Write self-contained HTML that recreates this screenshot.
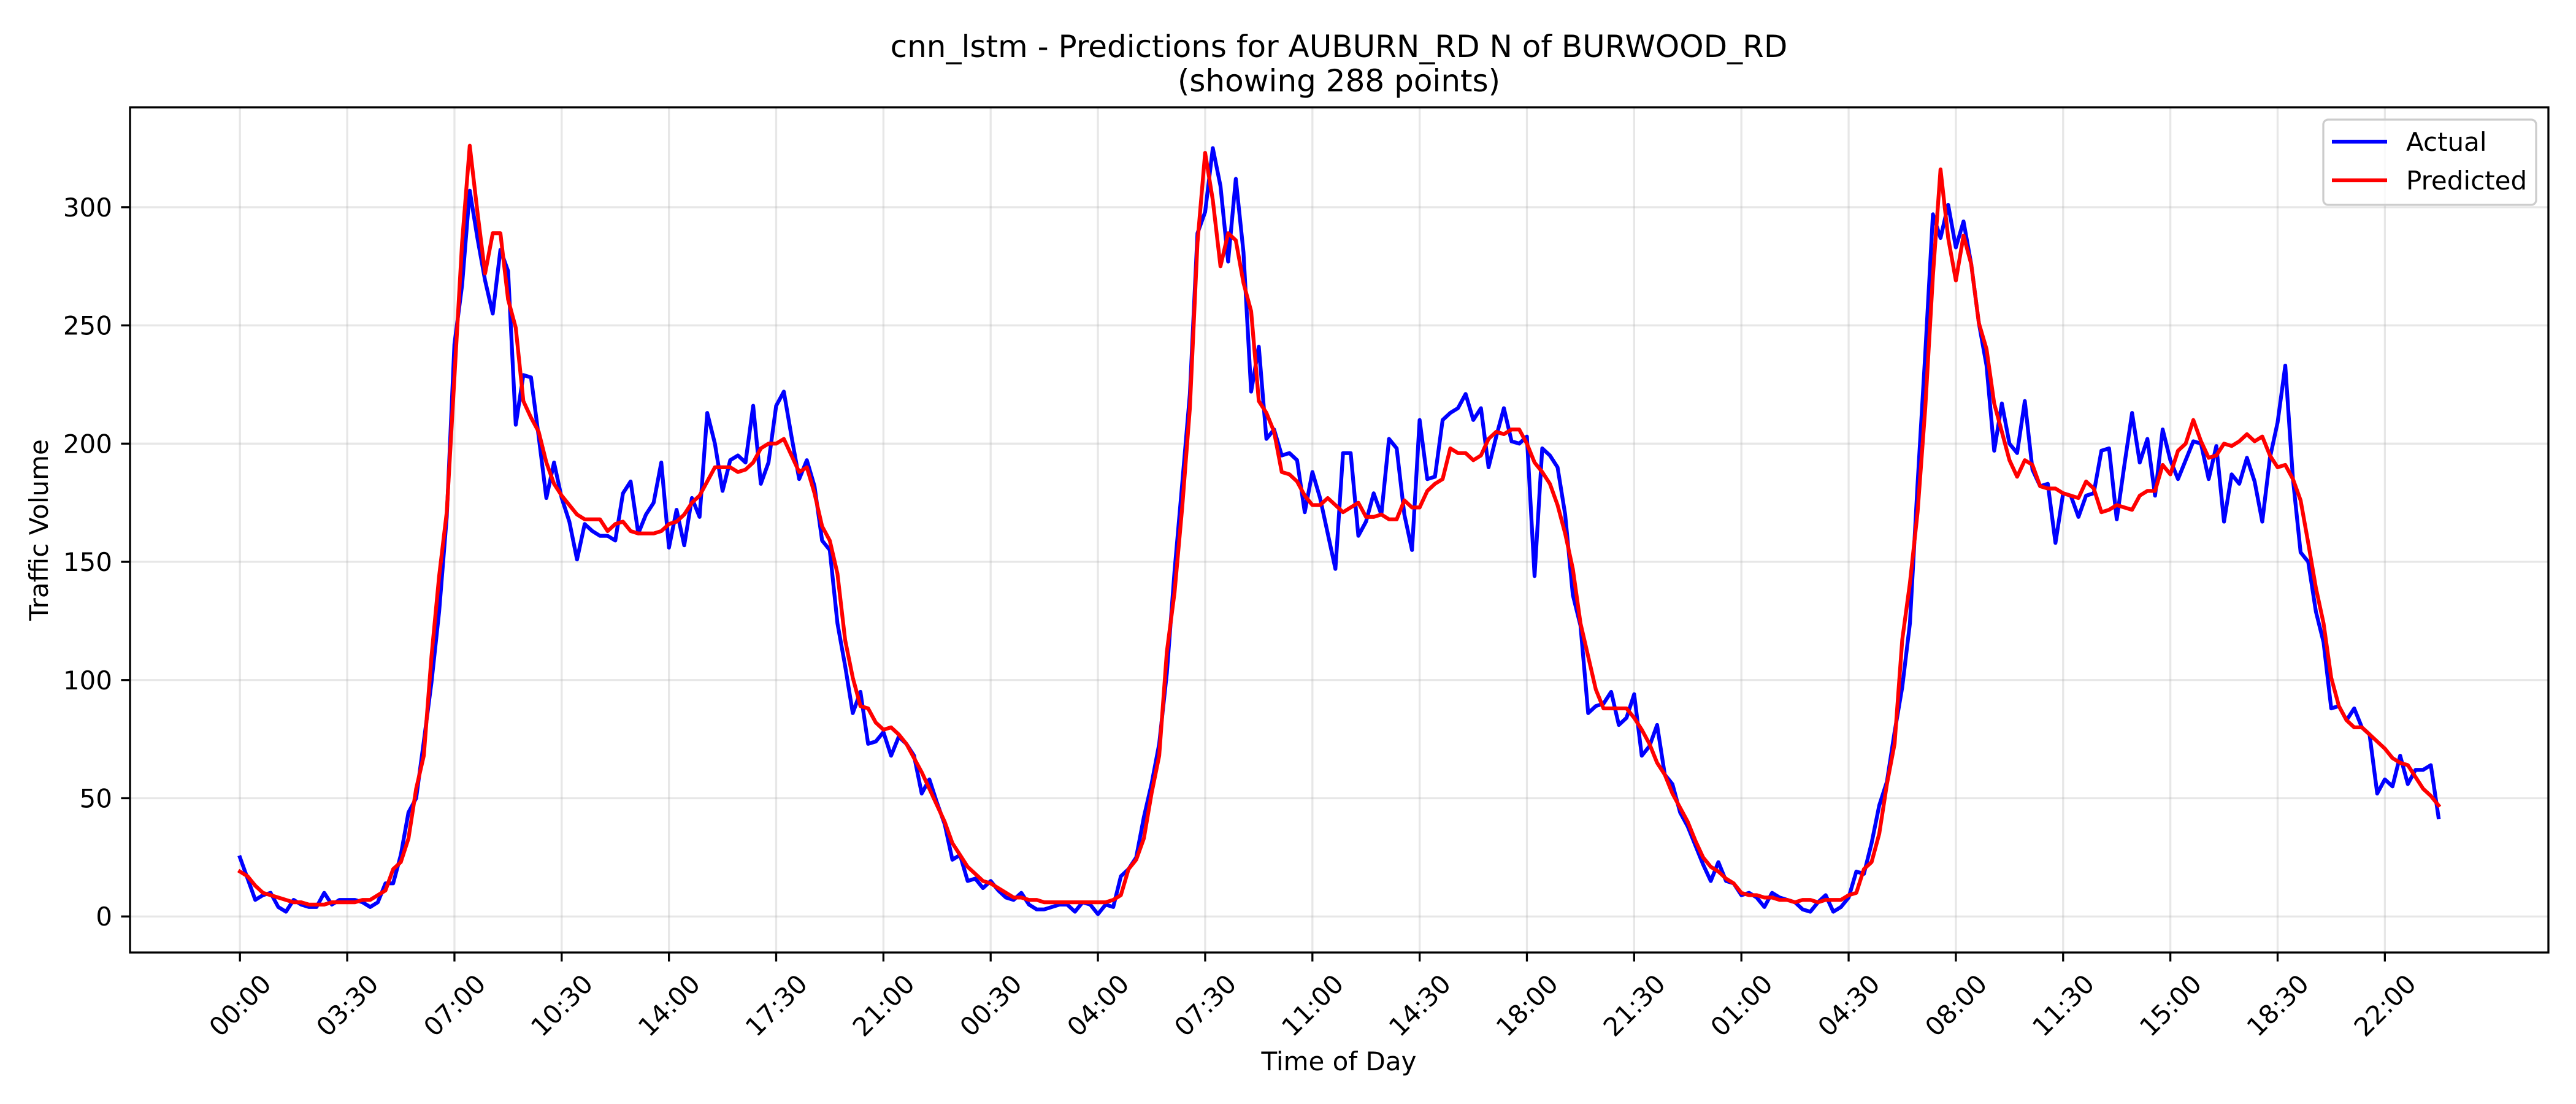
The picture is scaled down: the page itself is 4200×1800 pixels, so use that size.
<!DOCTYPE html>
<html>
<head>
<meta charset="utf-8">
<style>
  html, body { margin: 0; padding: 0; background: #ffffff; }
  svg { display: block; }
  text { font-family: "DejaVu Sans", "Liberation Sans", sans-serif; fill: #000; }
</style>
</head>
<body>
<svg id="chart" xmlns="http://www.w3.org/2000/svg" width="4200" height="1800" viewBox="0 0 4200 1800">
  <rect x="0" y="0" width="4200" height="1800" fill="#ffffff"></rect>
  <text x="2183" y="93" font-size="50" text-anchor="middle">cnn_lstm - Predictions for AUBURN_RD N of BURWOOD_RD</text>
  <text x="2183" y="149" font-size="50" text-anchor="middle">(showing 288 points)</text>
  <g id="grid"></g>
  <g id="series"></g>
  <rect x="212" y="175" width="3943" height="1378" fill="none" stroke="#000" stroke-width="3.3"></rect>
  <g id="ticks"></g>
  <text x="2183" y="1745" font-size="42" text-anchor="middle">Time of Day</text>
  <text x="0" y="0" font-size="42" text-anchor="middle" transform="translate(78,864) rotate(-90)">Traffic Volume</text>
  <g>
    <rect x="3788" y="195" width="347" height="139" rx="8" fill="#ffffff" fill-opacity="0.8" stroke="#cccccc" stroke-width="3.3"></rect>
    <line x1="3802" y1="231" x2="3892" y2="231" stroke="#0000ff" stroke-width="6.25"></line>
    <text x="3923" y="246" font-size="42">Actual</text>
    <line x1="3802" y1="294" x2="3892" y2="294" stroke="#ff0000" stroke-width="6.25"></line>
    <text x="3923" y="309" font-size="42">Predicted</text>
  </g>
</svg>
<script>
const actualValues = [
25,16,7,9,10,4,2,7,5,4,4,10,5,7,7,7,6,4,6,14,14,26,44,50,74,99,129,169,242,267,307,287,269,255,282,273,208,229,228,203,177,192,177,167,151,166,163,161,161,159,
179,184,162,170,175,192,156,172,157,177,169,213,200,180,193,195,192,216,183,192,216,222,203,185,193,182,159,155,124,106,86,95,73,74,78,68,76,73,68,52,58,48,39,24,26,15,16,12,
15,11,8,7,10,5,3,3,4,5,5,2,6,5,1,5,4,17,20,25,42,56,73,103,146,183,221,289,298,325,309,277,312,281,222,241,202,206,195,196,193,171,188,177,162,147,196,196,
161,167,179,170,202,198,170,155,210,185,186,210,213,215,221,210,215,190,203,215,201,200,203,144,198,195,190,170,136,123,86,89,90,95,81,84,94,68,72,81,60,56,44,38,30,22,15,23,
15,14,9,10,8,4,10,8,7,6,3,2,6,9,2,4,8,19,18,31,47,57,78,97,124,183,238,297,287,301,283,294,276,251,233,197,217,200,196,218,189,182,183,158,179,178,169,178,
179,197,198,168,191,213,192,202,178,206,193,185,193,201,200,185,199,167,187,183,194,184,167,194,209,233,185,154,150,129,116,88,89,83,88,80,77,52,58,55,68,56,62,62,64,42
];
const predictedValues = [
19,17,13,10,9,8,7,6,6,5,5,5,6,6,6,6,7,7,9,11,20,23,33,54,68,110,144,171,228,285,326,298,272,289,289,261,249,218,211,205,192,183,178,174,170,168,168,168,163,166,
167,163,162,162,162,163,166,167,170,175,178,184,190,190,190,188,189,192,198,200,200,202,195,188,190,179,165,159,145,117,101,89,88,82,79,80,77,73,67,61,54,47,40,31,26,21,18,15,
14,12,10,8,8,7,7,6,6,6,6,6,6,6,6,6,7,9,20,24,33,52,68,112,137,173,215,285,323,303,275,289,286,268,256,218,213,205,188,187,184,178,174,174,177,174,171,173,
175,169,169,170,168,168,176,173,173,180,183,185,198,196,196,193,195,202,205,204,206,206,200,192,188,183,174,162,147,124,110,96,88,88,88,88,84,79,73,65,60,52,46,40,32,25,21,19,
16,14,10,9,9,8,8,7,7,6,7,7,6,7,7,7,9,10,20,23,35,56,73,117,141,171,215,271,316,287,269,288,276,251,240,217,205,193,186,193,191,182,181,181,179,178,177,184,
181,171,172,174,173,172,178,180,180,191,187,197,200,210,201,194,195,200,199,201,204,201,203,195,190,191,185,176,158,139,124,101,89,83,80,80,77,74,71,67,65,64,59,54,51,47
];
const xTickLabels = ["00:00","03:30","07:00","10:30","14:00","17:30","21:00","00:30","04:00","07:30","11:00","14:30","18:00","21:30","01:00","04:30","08:00","11:30","15:00","18:30","22:00"];
const xTickStep = 14;
const yTickValues = [0,50,100,150,200,250,300];

const NS = "http://www.w3.org/2000/svg";
const plotL = 212, plotR = 4155, plotT = 175, plotB = 1553;
const n = actualValues.length;
const xMargin = (n - 1) * 0.05;
const allVals = actualValues.concat(predictedValues);
const vMin = Math.min.apply(null, allVals), vMax = Math.max.apply(null, allVals);
const yMargin = (vMax - vMin) * 0.05;
const yLo = vMin - yMargin, yHi = vMax + yMargin;
function xScale(i) { return plotL + (i + xMargin) * (plotR - plotL) / ((n - 1) + 2 * xMargin); }
function yScale(v) { return plotB - (v - yLo) * (plotB - plotT) / (yHi - yLo); }

const grid = document.getElementById('grid');
const ticks = document.getElementById('ticks');
const series = document.getElementById('series');

yTickValues.forEach(function (v) {
  const y = yScale(v);
  const gl = document.createElementNS(NS, 'line');
  
  
  gl.setAttribute('x1', plotL); gl.setAttribute('x2', plotR);
  gl.setAttribute('y1', y); gl.setAttribute('y2', y);
  gl.setAttribute('stroke', '#b0b0b0'); gl.setAttribute('stroke-opacity', '0.3'); gl.setAttribute('stroke-width', '3.3');
  grid.appendChild(gl);
  const tk = document.createElementNS(NS, 'line');
  
  
  tk.setAttribute('x1', plotL - 14.6); tk.setAttribute('x2', plotL);
  tk.setAttribute('y1', y); tk.setAttribute('y2', y);
  tk.setAttribute('stroke', '#000'); tk.setAttribute('stroke-width', '3.3');
  ticks.appendChild(tk);
  const tl = document.createElementNS(NS, 'text');
  
  
  tl.setAttribute('x', plotL - 29); tl.setAttribute('y', y + 15);
  tl.setAttribute('font-size', '42'); tl.setAttribute('text-anchor', 'end');
  tl.textContent = String(v);
  ticks.appendChild(tl);
});

xTickLabels.forEach(function (lab, k) {
  const x = xScale(k * xTickStep);
  const gl = document.createElementNS(NS, 'line');
  
  
  gl.setAttribute('x1', x); gl.setAttribute('x2', x);
  gl.setAttribute('y1', plotT); gl.setAttribute('y2', plotB);
  gl.setAttribute('stroke', '#b0b0b0'); gl.setAttribute('stroke-opacity', '0.3'); gl.setAttribute('stroke-width', '3.3');
  grid.appendChild(gl);
  const tk = document.createElementNS(NS, 'line');
  
  
  tk.setAttribute('x1', x); tk.setAttribute('x2', x);
  tk.setAttribute('y1', plotB); tk.setAttribute('y2', plotB + 14.6);
  tk.setAttribute('stroke', '#000'); tk.setAttribute('stroke-width', '3.3');
  ticks.appendChild(tk);
  const tl = document.createElementNS(NS, 'text');
  
  
  tl.setAttribute('x', 0); tl.setAttribute('y', 15);
  tl.setAttribute('font-size', '42'); tl.setAttribute('text-anchor', 'middle');
  tl.setAttribute('transform', 'translate(' + x + ',' + 1639 + ') rotate(-45)');
  tl.textContent = lab;
  ticks.appendChild(tl);
});

function makeLine(vals, color, name) {
  const pts = vals.map(function (v, i) { return xScale(i).toFixed(1) + ',' + yScale(v).toFixed(1); }).join(' ');
  const pl = document.createElementNS(NS, 'polyline');
  
  
  pl.setAttribute('points', pts);
  pl.setAttribute('fill', 'none');
  pl.setAttribute('stroke', color);
  pl.setAttribute('stroke-width', '6.25');
  pl.setAttribute('stroke-linejoin', 'round');
  pl.setAttribute('stroke-linecap', 'square');
  series.appendChild(pl);
}
makeLine(actualValues, '#0000ff', 'actual-line');
makeLine(predictedValues, '#ff0000', 'predicted-line');
</script>
</body>
</html>
